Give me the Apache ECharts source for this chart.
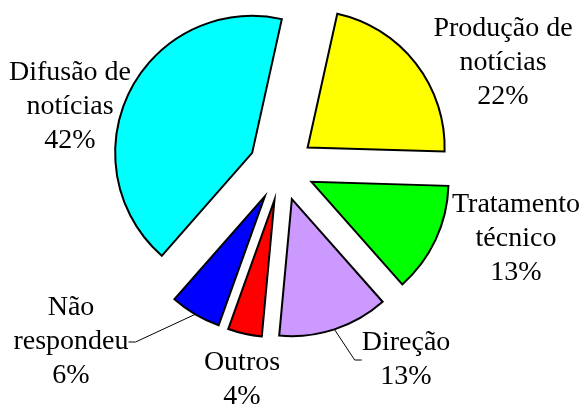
<!DOCTYPE html>
<html>
<head>
    <meta charset="utf-8">
    <title>ECharts</title>
    <script src="https://fastly.jsdelivr.net/npm/echarts@6/dist/echarts.min.js"></script>
</head>
<body style="margin:0;background:#fff;">
    <div id="main" style="width: 584px;height:408px;"></div>
    <script type="text/javascript">
        // slices, clockwise from the top
        var categories = ['Produção de\nnotícias', 'Tratamento\ntécnico', 'Direção', 'Outros', 'Não\nrespondeu', 'Difusão de\nnotícias'];
        var values = [22, 13, 13, 4, 6, 42];

        // styling
        var colors = ['#FFFF00', '#00FF00', '#CC99FF', '#FF0000', '#0000FF', '#00FFFF'];
        var labelPos = [[503, 63], [516, 239], [406, 360], [242, 380], [71, 342], [70, 107]];
        var withLine = [false, false, true, false, true, false];
        var pieCenter = [281.6, 167.8];
        var pieRadius = 137;
        var explode = 33;
        var startDeg = 12.5; // first slice starts this far clockwise from 12 o'clock

        var myChart = echarts.init(document.getElementById('main'));

        var total = values.reduce(function (a, b) { return a + b; }, 0);

        // one pie per slice, so every slice can be pulled out along its own mid angle
        var series = values.map(function (v, i) {
            var before = values.slice(0, i).reduce(function (a, b) { return a + b; }, 0);
            var mid = (startDeg + (before + v / 2) / total * 360) * Math.PI / 180;
            return {
                type: 'pie',
                silent: true,
                center: [pieCenter[0] + explode * Math.sin(mid), pieCenter[1] - explode * Math.cos(mid)],
                radius: [0, pieRadius],
                startAngle: 90 - startDeg,
                clockwise: true,
                avoidLabelOverlap: false,
                minShowLabelAngle: 0,
                emphasis: { disabled: true },
                label: {
                    show: true,
                    position: 'outside',
                    formatter: '{b}\n{c}%',
                    fontFamily: 'Liberation Serif',
                    fontSize: 28,
                    lineHeight: 34,
                    color: '#000',
                    align: 'center'
                },
                labelLine: {
                    length: 10,
                    length2: 7,
                    lineStyle: { color: '#000', width: 1 }
                },
                labelLayout: function (params) {
                    var p = labelPos[params.dataIndex];
                    return { x: p[0], y: p[1], align: 'center', verticalAlign: 'middle' };
                },
                data: values.map(function (w, j) {
                    if (j !== i) {
                        return {
                            value: w,
                            name: categories[j],
                            itemStyle: { color: 'none', borderWidth: 0 },
                            label: { show: false },
                            labelLine: { show: false }
                        };
                    }
                    return {
                        value: w,
                        name: categories[j],
                        itemStyle: {
                            color: colors[j],
                            borderColor: '#000',
                            borderWidth: 2,
                            borderJoin: 'miter'
                        },
                        labelLine: { show: withLine[j] }
                    };
                })
            };
        });

        myChart.setOption({
            animation: false,
            series: series
        });
    </script>
</body>
</html>
